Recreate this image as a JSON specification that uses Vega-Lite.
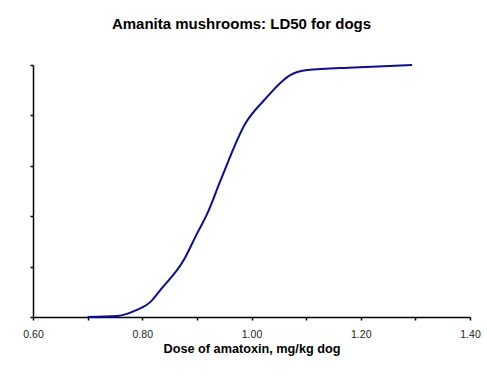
{
  "$schema": "https://vega.github.io/schema/vega-lite/v6.json",
  "width": 437,
  "height": 252,
  "autosize": "none",
  "padding": {"left": 33, "top": 65, "right": 17, "bottom": 59},
  "background": "white",
  "config": {
    "view": {"stroke": null},
    "font": "Liberation Sans",
    "axis": {"grid": false, "domainColor": "black", "tickColor": "black", "domainWidth": 1.5, "tickWidth": 1.5, "tickSize": 3, "labelColor": "#222222", "titleColor": "black"}
  },
  "title": {
    "text": "Amanita mushrooms: LD50 for dogs",
    "fontSize": 15,
    "fontWeight": "bold",
    "font": "Liberation Sans",
    "anchor": "middle",
    "frame": "group",
    "dx": -10,
    "offset": 29,
    "color": "black"
  },
  "data": {
    "values": [
      {"dose": 0.700, "pct": 0},
      {"dose": 0.754, "pct": 0.4},
      {"dose": 0.790, "pct": 2.8},
      {"dose": 0.815, "pct": 6},
      {"dose": 0.833, "pct": 10.7},
      {"dose": 0.876, "pct": 22.6},
      {"dose": 0.900, "pct": 33},
      {"dose": 0.919, "pct": 41},
      {"dose": 0.943, "pct": 54},
      {"dose": 0.989, "pct": 76.9},
      {"dose": 1.023, "pct": 86},
      {"dose": 1.071, "pct": 96},
      {"dose": 1.102, "pct": 98},
      {"dose": 1.188, "pct": 99},
      {"dose": 1.294, "pct": 100}
    ]
  },
  "mark": {"type": "line", "interpolate": "monotone", "color": "#0d0d8f", "strokeWidth": 2},
  "encoding": {
    "x": {
      "field": "dose",
      "type": "quantitative",
      "scale": {"domain": [0.6, 1.4], "nice": false, "zero": false},
      "axis": {
        "values": [0.6, 0.7, 0.8, 0.9, 1.0, 1.1, 1.2, 1.3, 1.4],
        "labelExpr": "round(datum.value*10) % 2 == 0 ? format(datum.value, '.2f') : ''",
        "labelFontSize": 10.5,
        "labelFlush": false,
        "labelBound": false,
        "labelOverlap": false,
        "labelPadding": 9,
        "title": "Dose of amatoxin, mg/kg dog",
        "titleFontSize": 12.7,
        "titleFontWeight": "bold",
        "titlePadding": 3
      }
    },
    "y": {
      "field": "pct",
      "type": "quantitative",
      "scale": {"domain": [0, 100], "nice": false},
      "axis": {"values": [0, 20, 40, 60, 80, 100], "labels": false, "title": null}
    }
  }
}
